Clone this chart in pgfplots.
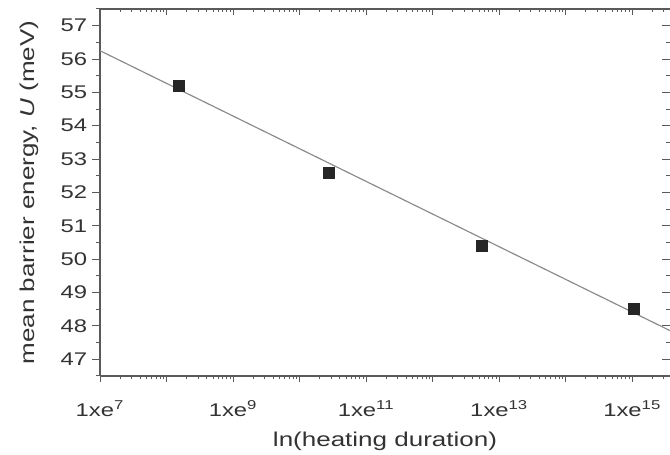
\documentclass[border=0pt]{standalone}
\usepackage{pgfplots}
\pgfplotsset{compat=1.18}
\usepackage{fontspec}
\setmainfont{Liberation Sans}[FakeStretch=1.3]

\definecolor{axisgray}{HTML}{5A5A5A}
\definecolor{textgray}{HTML}{333333}
\definecolor{fitgray}{HTML}{8A8A8A}

\pgfplotsset{
  barrierframe/.style={
    scale only axis, width=342pt, height=220.2pt,
    xmin=1e7, xmax=3.7e15, ymin=46.5, ymax=57.5,
    xtick={1e7,1e8,1e9,1e10,1e11,1e12,1e13,1e14,1e15},
    minor xtick={2e7,3e7,4e7,5e7,6e7,7e7,8e7,9e7,
                 2e8,3e8,4e8,5e8,6e8,7e8,8e8,9e8,
                 2e9,3e9,4e9,5e9,6e9,7e9,8e9,9e9,
                 2e10,3e10,4e10,5e10,6e10,7e10,8e10,9e10,
                 2e11,3e11,4e11,5e11,6e11,7e11,8e11,9e11,
                 2e12,3e12,4e12,5e12,6e12,7e12,8e12,9e12,
                 2e13,3e13,4e13,5e13,6e13,7e13,8e13,9e13,
                 2e14,3e14,4e14,5e14,6e14,7e14,8e14,9e14,
                 2e15,3e15},
    ytick={47,48,...,57}, minor ytick={46.5,47.5,...,57.5},
    axis line style={axisgray, line width=0.9pt},
    tick style={axisgray, line width=0.6pt},
    xtick style={/pgfplots/major tick length=3.5pt, /pgfplots/minor tick length=2pt},
    ytick style={/pgfplots/major tick length=4.8pt, /pgfplots/minor tick length=2.4pt},
  },
}

\begin{document}
\begin{tikzpicture}
\begin{semilogxaxis}[barrierframe, name=main,
  axis x line*=bottom, axis y line*=left,
  tick align=outside,
  xticklabels={1xe\textsuperscript{7},{},1xe\textsuperscript{9},{},1xe\textsuperscript{11},{},1xe\textsuperscript{13},{},1xe\textsuperscript{15}},
  xticklabel style={font=\fontsize{11}{13}\selectfont, text=textgray, yshift=-7pt},
  yticklabel style={font=\fontsize{11}{13}\selectfont, text=textgray},
  /pgf/number format/assume math mode=true,
  xlabel={ln(heating duration)},
  ylabel={mean barrier energy, \textit{U} (meV)},
  xlabel style={at={(axis description cs:0.5,-0.178)}, anchor=center, font=\fontsize{12}{14}\selectfont, text=textgray},
  ylabel style={at={(axis description cs:-0.1246,0.5)}, anchor=center, font=\fontsize{12}{14}\selectfont, text=textgray},
]
\addplot[fitgray, line width=0.7pt] coordinates {(1e7,56.25) (3.7e15,47.86)};
\addplot[only marks, mark=square*, mark size=3.3pt, black!85] coordinates {
  (1.54e8,55.20) (2.75e10,52.59) (5.5e12,50.40) (1.04e15,48.50)};
\end{semilogxaxis}
\begin{semilogxaxis}[barrierframe, at={(main.south west)}, anchor=south west,
  axis x line*=top, axis y line*=right,
  y axis line style={draw=none},
  tick align=inside,
  xticklabels={}, yticklabels={},
]
\end{semilogxaxis}
\pgfresetboundingbox
\path ([xshift=-60pt,yshift=-47.4pt]main.south west) rectangle ([yshift=5.4pt]main.north east);
\end{tikzpicture}
\end{document}
